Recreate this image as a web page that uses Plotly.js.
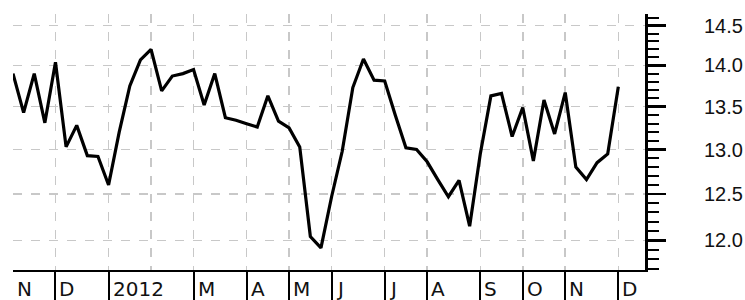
<!DOCTYPE html>
<html>
<head>
<meta charset="utf-8">
<script src="https://cdn.plot.ly/plotly-3.0.1.min.js"></script>
<style>
html,body{margin:0;padding:0;background:#fff;}
#chart{width:745px;height:300px;}
</style>
</head>
<body>
<div id="chart"></div>
<script>
// Weekly dates (Fridays)
const weeks = [
  '2011-11-04','2011-11-11','2011-11-18','2011-11-25',
  '2011-12-02','2011-12-09','2011-12-16','2011-12-23','2011-12-30',
  '2012-01-06','2012-01-13','2012-01-20','2012-01-27',
  '2012-02-03','2012-02-10','2012-02-17','2012-02-24',
  '2012-03-02','2012-03-09','2012-03-16','2012-03-23','2012-03-30',
  '2012-04-06','2012-04-13','2012-04-20','2012-04-27',
  '2012-05-04','2012-05-11','2012-05-18','2012-05-25',
  '2012-06-01','2012-06-08','2012-06-15','2012-06-22','2012-06-29',
  '2012-07-06','2012-07-13','2012-07-20','2012-07-27',
  '2012-08-03','2012-08-10','2012-08-17','2012-08-24','2012-08-31',
  '2012-09-07','2012-09-14','2012-09-21','2012-09-28',
  '2012-10-05','2012-10-12','2012-10-19','2012-10-26',
  '2012-11-02','2012-11-09','2012-11-16','2012-11-23','2012-11-30',
  '2012-12-07'
];
// Weekly values
const values = [
  13.90, 13.43, 13.90, 13.31,
  14.04, 13.03, 13.28, 12.93, 12.92,
  12.60, 13.20, 13.75, 14.07,
  14.20, 13.69, 13.87, 13.90,
  13.95, 13.52, 13.90, 13.37, 13.34,
  13.30, 13.26, 13.63, 13.33,
  13.25, 13.03, 12.04, 11.92,
  12.47, 12.98, 13.73, 14.08, 13.82,
  13.81, 13.40, 13.02, 13.00,
  12.86, 12.66, 12.47, 12.65, 12.15,
  12.95, 13.63, 13.66, 13.15,
  13.49, 12.87, 13.58, 13.18,
  13.67, 12.80, 12.66, 12.85, 12.95,
  13.74
];
// Month boundary ticks (first week of month) and labels
const monthTickDates = ['2011-12-02','2012-01-06','2012-03-02','2012-04-06','2012-05-04','2012-06-01','2012-07-06','2012-08-03','2012-09-07','2012-10-05','2012-11-02','2012-12-07'];
const unlabeledMonthDates = ['2012-02-03'];
const monthLabelDates = ['2011-11-04','2011-12-02','2012-01-06','2012-03-02','2012-04-06','2012-05-04','2012-06-01','2012-07-06','2012-08-03','2012-09-07','2012-10-05','2012-11-02','2012-12-07'];
const monthLabels = ['N','D','2012','M','A','M','J','J','A','S','O','N','D'];
// Y ticks
const yTickVals = [12.0, 12.5, 13.0, 13.5, 14.0, 14.5];
const yTickText = ['12.0','12.5','13.0','13.5','14.0','14.5'];

const yMinorVals = [];
for (let k = 117; k <= 146; k++) { if (k % 5 !== 0) yMinorVals.push(k / 10); }

const FONT = 'Liberation Sans, Arial, sans-serif';
const XFONT = 'DejaVu Sans, Verdana, sans-serif';
const GRID = '#c8c8c8';

const annotations = monthLabels.map((t, i) => ({
  text: t, x: monthLabelDates[i], xref: 'x', y: 0, yref: 'paper',
  xanchor: 'left', yanchor: 'top', xshift: 2, yshift: -5, showarrow: false,
  font: {family: XFONT, size: 20, color: '#111'}
}));

const trace = {
  x: weeks, y: values, type: 'scatter', mode: 'lines',
  line: {color: '#000', width: 3.2}, hoverinfo: 'skip'
};

const layout = {
  width: 745, height: 300,
  margin: {l: 13, r: 100, t: 14, b: 30, pad: 0},
  paper_bgcolor: '#fff', plot_bgcolor: '#fff',
  showlegend: false,
  xaxis: {
    type: 'date',
    range: ['2011-11-04', '2012-12-24 14:00'],
    tickmode: 'array', tickvals: monthTickDates, showticklabels: false,
    ticks: 'outside', ticklen: 32, tickwidth: 2, tickcolor: '#000',
    showline: true, linecolor: '#000', linewidth: 2,
    showgrid: true, gridcolor: GRID, griddash: 'dash', gridwidth: 1.5,
    zeroline: false,
    minor: {tickmode: 'array', tickvals: unlabeledMonthDates, ticks: '', showgrid: true,
            gridcolor: GRID, griddash: 'dash', gridwidth: 1.5}
  },
  yaxis: {
    type: 'log', side: 'right',
    range: [Math.log10(11.69), Math.log10(14.65)],
    tickmode: 'array', tickvals: yTickVals, ticktext: yTickText,
    ticks: 'outside', ticklen: 18, tickwidth: 2.5, tickcolor: '#000',
    ticklabelstandoff: 34,
    tickfont: {family: FONT, size: 20, color: '#111'},
    showline: true, linecolor: '#000', linewidth: 3,
    showgrid: true, gridcolor: GRID, griddash: 'dash', gridwidth: 1.5,
    zeroline: false,
    minor: {tickmode: 'array', tickvals: yMinorVals, ticks: 'outside', ticklen: 11,
            tickwidth: 2, tickcolor: '#000', showgrid: false}
  },
  annotations: annotations
};

Plotly.newPlot('chart', [trace], layout, {staticPlot: true, displayModeBar: false});
</script>
</body>
</html>
